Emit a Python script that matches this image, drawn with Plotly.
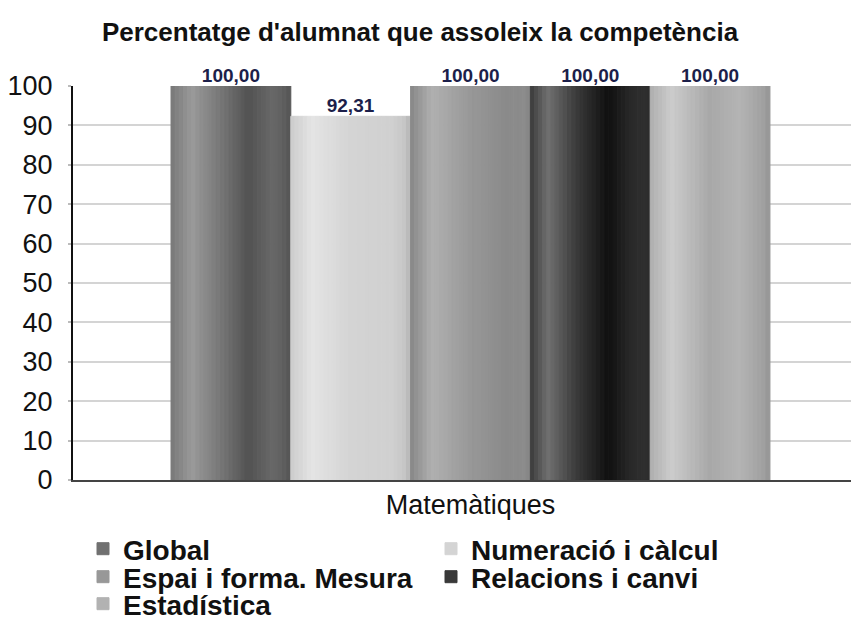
import plotly.graph_objects as go

# ---- data ----
categories = ["Matemàtiques"]
series_names = ["Global", "Numeració i càlcul", "Espai i forma. Mesura",
                "Relacions i canvi", "Estadística"]
series_values = [100.00, 92.31, 100.00, 100.00, 100.00]
y_ticks = [0, 10, 20, 30, 40, 50, 60, 70, 80, 90, 100]
title_text = "Percentatge d'alumnat que assoleix la competència"

# ---- style: cylinder-like grey shading profiles (position, grey level) ----
shade_stops = [
    [(0.0, 0x78), (0.18, 0x9a), (0.45, 0x72), (0.65, 0x52), (0.85, 0x68), (0.97, 0x5c), (1.0, 0x50)],
    [(0.0, 0xcc), (0.18, 0xe4), (0.5, 0xd4), (0.85, 0xd0), (0.97, 0xc4), (1.0, 0xb0)],
    [(0.0, 0x86), (0.18, 0xb0), (0.5, 0x98), (0.8, 0x8a), (0.97, 0x8c), (1.0, 0x80)],
    [(0.0, 0x3a), (0.15, 0x70), (0.38, 0x3c), (0.65, 0x10), (0.85, 0x2a), (0.97, 0x30), (1.0, 0x28)],
    [(0.0, 0xae), (0.18, 0xcc), (0.5, 0xa8), (0.75, 0xb4), (0.97, 0x9e), (1.0, 0x90)],
]
legend_ids = ["legend", "legend", "legend2", "legend2", "legend3"]
N_STRIPS = 29
FONT = "Liberation Sans, Arial, sans-serif"

# page body has an 8px default margin: figure is 8px smaller so it fits the window
W, H = 851, 613
PLOT_LEFT, PLOT_TOP, PLOT_BOTTOM = 65, 78, 472
PLOT_H = PLOT_BOTTOM - PLOT_TOP


def grey_at(stops, t):
    for (p0, g0), (p1, g1) in zip(stops[:-1], stops[1:]):
        if p0 <= t <= p1:
            g = int(round(g0 + (g1 - g0) * (t - p0) / (p1 - p0)))
            return f"rgb({g},{g},{g})"
    g = stops[-1][1]
    return f"rgb({g},{g},{g})"


fig = go.Figure()
for si, (name, val) in enumerate(zip(series_names, series_values)):
    stops = shade_stops[si]
    cols = [grey_at(stops, (k + 0.5) / N_STRIPS) for k in range(N_STRIPS)]
    levels = [int(c[4:].split(",")[0]) for c in cols]
    mean = sum(levels) / len(levels)
    leg_k = min(range(N_STRIPS), key=lambda k: abs(levels[k] - mean))
    mid = N_STRIPS // 2
    for k in range(N_STRIPS):
        fig.add_trace(go.Bar(
            x=categories, y=[val], name=name,
            marker=dict(color=cols[k], line=dict(width=1, color=cols[k])),
            showlegend=(k == leg_k),
            legend=legend_ids[si],
            legendgroup=name,
            texttemplate="%{y:.2f}" if k == mid else None,
            textposition="outside" if k == mid else "none",
            textangle=0,
            constraintext="none",
            cliponaxis=False,
            textfont=dict(family=FONT, size=19, color="#1c1f4a", weight="bold"),
            hoverinfo="skip",
        ))


def legend_at(ypx):
    return dict(orientation="h", xanchor="left", yanchor="middle",
                x=(75 - PLOT_LEFT) / (W - PLOT_LEFT),
                y=-(ypx - PLOT_BOTTOM) / PLOT_H,
                bgcolor="rgba(0,0,0,0)", borderwidth=0,
                entrywidth=303, entrywidthmode="pixels",
                font=dict(family=FONT, size=28, color="#111111", weight="bold"),
                traceorder="normal")


fig.update_layout(
    width=W, height=H,
    margin=dict(l=PLOT_LEFT, r=0, t=PLOT_TOP, b=H - PLOT_BOTTOM, autoexpand=False),
    paper_bgcolor="white", plot_bgcolor="white",
    separators=",.",
    barmode="group", bargap=0.2466, bargroupgap=0,
    title=dict(text=title_text, x=412 / W, xref="container", xanchor="center",
               y=1 - 24 / H, yref="container", yanchor="middle",
               font=dict(family=FONT, size=26, color="#111111", weight="bold")),
    legend=legend_at(541),
    legend2=legend_at(569),
    legend3=legend_at(596),
    showlegend=True,
    xaxis=dict(type="category", range=[-0.5, 0.4887], showgrid=False,
               showline=True, linecolor="#444444", linewidth=2,
               layer="below traces", ticks="",
               tickfont=dict(family=FONT, size=27, color="#111111"),
               zeroline=False, fixedrange=True),
    yaxis=dict(range=[0, 100], tickvals=y_ticks, ticktext=[str(v) for v in y_ticks],
               showgrid=True, gridcolor="#d4d4d4", gridwidth=2,
               showline=True, linecolor="#111111", linewidth=2,
               ticks="outside", ticklen=3, tickcolor="#bbbbbb", tickwidth=2,
               ticklabelstandoff=10,
               tickfont=dict(family=FONT, size=27, color="#111111"),
               zeroline=False, fixedrange=True),
)

fig.write_html("out.html")
